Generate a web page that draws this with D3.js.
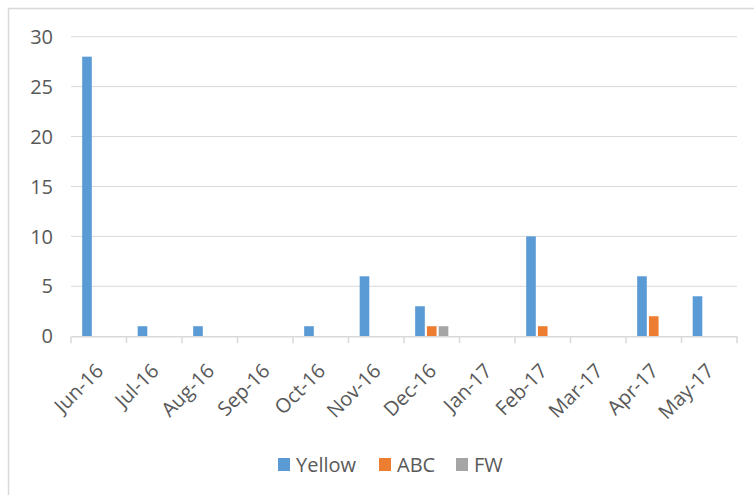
<!DOCTYPE html>
<html><head><meta charset="utf-8">
<script src="https://cdn.jsdelivr.net/npm/d3@7"></script>
<style>body{margin:0;background:#fff}svg{display:block}text{font-family:"Open Sans",sans-serif;fill:#595959}</style>
</head><body>
<svg id="c" width="754" height="495"></svg>
<script>
const categories = ["Jun-16","Jul-16","Aug-16","Sep-16","Oct-16","Nov-16","Dec-16","Jan-17","Feb-17","Mar-17","Apr-17","May-17"];
const seriesNames = ["Yellow","ABC","FW"];
const yellow = [28,1,1,0,1,6,3,0,10,0,6,4];
const abc    = [0,0,0,0,0,0,1,0,1,0,2,0];
const fw     = [0,0,0,0,0,0,1,0,0,0,0,0];
const yTicks = [0,5,10,15,20,25,30];
const colors = ["#5B9BD5","#ED7D31","#A5A5A5"];
const seriesVals = [yellow, abc, fw];

const svg = d3.select("#c");
svg.append("rect").attr("x",8.5).attr("y",8.5).attr("width",760).attr("height",500)
  .attr("fill","#fff").attr("stroke","#d9d9d9").attr("stroke-width",1.5);

const L=71, R=737, T=36.7, B=336.2;
const x = d3.scaleBand().domain(categories).range([L,R]);
const x1 = d3.scaleBand().domain(seriesNames).range([0,x.bandwidth()]).paddingInner(0.18).paddingOuter(0.95);
const y = d3.scaleLinear().domain([0,30]).range([B,T]);

// gridlines
svg.append("g").selectAll("line").data(yTicks.filter(d=>d>0)).join("line")
  .attr("x1",L).attr("x2",R).attr("y1",d=>y(d)).attr("y2",d=>y(d))
  .attr("stroke","#d9d9d9").attr("stroke-width",1);

// y labels
svg.append("g").selectAll("text").data(yTicks).join("text")
  .attr("x",53).attr("y",d=>y(d)).attr("dy","0.36em").attr("text-anchor","end")
  .attr("font-size",20).text(d=>d);

// bars
const data = [];
categories.forEach((c,i)=>seriesNames.forEach((s,j)=>data.push({c,s,v:seriesVals[j][i],col:colors[j]})));
svg.append("g").selectAll("rect").data(data.filter(d=>d.v>0)).join("rect")
  .attr("x",d=>x(d.c)+x1(d.s)).attr("width",x1.bandwidth())
  .attr("y",d=>y(d.v)).attr("height",d=>B-y(d.v)).attr("fill",d=>d.col);

// x axis
const xa = svg.append("g").attr("transform",`translate(0,${B})`)
  .call(d3.axisBottom(x).tickSize(0).tickFormat(""));
xa.select(".domain").attr("stroke","#d9d9d9").attr("stroke-width",1.5);
const edges = categories.map(c=>x(c)).concat([R]);
svg.append("g").selectAll("line").data(edges).join("line")
  .attr("x1",d=>d).attr("x2",d=>d).attr("y1",B).attr("y2",B+7)
  .attr("stroke","#d9d9d9").attr("stroke-width",1.5);
svg.append("g").selectAll("text").data(categories).join("text")
  .attr("transform",d=>`translate(${x(d)+x.bandwidth()/2-4},${B+26}) rotate(-45)`)
  .attr("text-anchor","end").attr("dy","0.7em").attr("font-size",20).text(d=>d);

// legend
const legX = [278,379,456];
const lg = svg.append("g").selectAll("g").data(seriesNames).join("g")
  .attr("transform",(d,i)=>`translate(${legX[i]},458)`);
lg.append("rect").attr("width",12).attr("height",13).attr("fill",(d,i)=>colors[i]);
lg.append("text").attr("x",18).attr("y",13.5).attr("font-size",20).text(d=>d);
</script>
</body></html>
